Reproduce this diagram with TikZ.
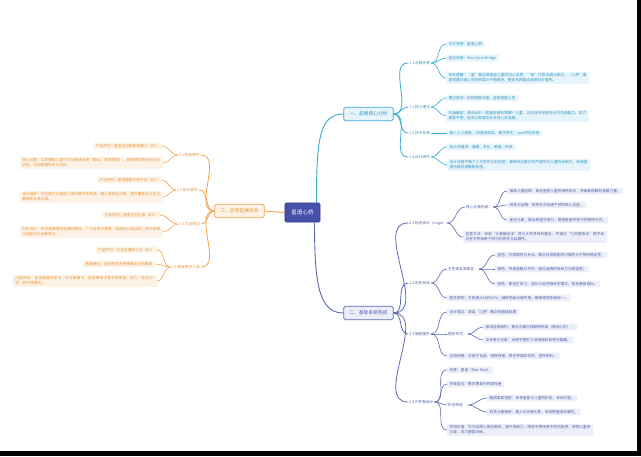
\documentclass[tikz,border=0pt]{standalone}
\usepackage{fontspec}
\setmainfont{Noto Sans CJK SC}
\XeTeXlinebreaklocale "zh"
\XeTeXlinebreakskip = 0pt plus 1pt
\definecolor{cyL}{HTML}{3AA9D4}
\definecolor{cyF}{HTML}{E6F4FB}
\definecolor{cyT}{HTML}{3496C4}
\definecolor{blL}{HTML}{5A69B5}
\definecolor{blF}{HTML}{EDEFF8}
\definecolor{blT}{HTML}{5262A8}
\definecolor{orL}{HTML}{F2A24B}
\definecolor{orF}{HTML}{FDF2E6}
\definecolor{orT}{HTML}{E8963A}
\definecolor{ctF}{HTML}{4650A8}
\begin{document}
\begin{tikzpicture}[x=1pt,y=-1pt,
  small/.style={font=\fontsize{3.7}{4.9}\selectfont},
  central/.style={draw=ctF!80!black,fill=ctF,text=white,rounded corners=1.5pt,font=\fontsize{5.6}{6.5}\selectfont,inner xsep=6.5pt,inner ysep=7pt,line width=0.5pt},
  bbox/.style={rounded corners=1.5pt,font=\fontsize{4.8}{5.6}\selectfont,inner xsep=5.5pt,inner ysep=4.5pt,line width=0.7pt},
  b1box/.style={bbox,draw=cyL,fill=cyF,text=cyT},
  b2box/.style={bbox,draw=blL,fill=blF,text=blT},
  b3box/.style={bbox,draw=orL,fill=orF,text=orT},
  leaf/.style={small,rounded corners=1pt,inner xsep=2.5pt,inner ysep=1.6pt,align=left},
  c1leaf/.style={leaf,fill=cyF,text=cyT,anchor=west},
  c2leaf/.style={leaf,fill=blF,text=blT,anchor=west},
  c3leaf/.style={leaf,fill=orF,text=orT,anchor=east},
  c1lab/.style={small,text=cyT,inner sep=1pt,anchor=west},
  c2lab/.style={small,text=blT,inner sep=1pt,anchor=west},
  c3lab/.style={small,text=orT,inner sep=1pt,anchor=east},
  c1line/.style={draw=cyL,line width=0.6pt},
  c2line/.style={draw=blL,line width=0.6pt},
  c3line/.style={draw=orL,line width=0.6pt},
  lr/.style={out=0,in=180},
  rl/.style={out=180,in=0}]
\useasboundingbox (0,0) rectangle (641,456);
\fill[white] (0,0) rectangle (641,456);
\fill[black] (637,0) rectangle (641,456);
\fill[black] (0,451) rectangle (641,456);

% central and main branches
\node[central] (c) at (302.5,212.5) {星语心桥};
\node[b1box] (b1) at (368.5,114) {一、品牌核心分析};
\node[b2box] (b2) at (368.5,313) {二、基础系统构成};
\node[b3box] (b3) at (239.5,211) {三、应用延展体系};

\draw[c1line,line width=0.9pt] ([xshift=14pt]c.north) .. controls +(0,-60) and +(-25,0) .. (b1.west);
\draw[c2line,line width=0.9pt] ([xshift=12pt]c.south) .. controls +(0,60) and +(-25,0) .. (b2.west);
\draw[c3line,line width=0.9pt] (c.west) -- (b3.east);

% ---------- branch 1 ----------
\node[c1lab] (s11) at (408,63) {1.1 品牌名称};
\node[c1lab] (s12) at (408,107) {1.2 核心理念};
\node[c1lab] (s13) at (408,133) {1.3 技术背景};
\node[c1lab] (s14) at (408,157) {1.4 设计调性};

\node[c1leaf] (n111) at (446,44) {中文名称：星语心桥};
\node[c1leaf] (n112) at (446,58) {英文名称：Star Voice Bridge};
\node[c1leaf,text width=138pt] (n113) at (446,78) {命名逻辑：“星”象征孤独症儿童的内心世界，“语”代表沟通与表达，“心桥”寓意搭建沟通心灵的桥梁与干预路径，整体名称蕴含品牌与价值性。};
\node[c1leaf] (n121) at (446,98) {理念表述：科技赋能沟通，连接星星心灵};
\node[c1leaf,text width=138pt] (n122) at (446,116) {内涵解读：面向ASD（孤独症谱系障碍）儿童，以科技手段提升社交沟通能力，助力康复干预，促进与家庭及社会的心灵连接。};
\node[c1leaf] (n131) at (447,133) {融入人工智能、VR虚拟现实、数字孪生、care评估系统};
\node[c1leaf] (n141) at (447,147) {四大关键词：温暖、专业、希望、科技};
\node[c1leaf,text width=138pt] (n142) at (447,165) {设计风格平衡了人文关怀与科技感，兼顾专业医疗的严谨性与儿童的亲和力，传递值得信赖的温暖陪伴感。};

\foreach \t in {s11,s12,s13,s14} \draw[c1line,line width=0.8pt] (b1.east) to[lr] (\t.west);
\foreach \t in {n111,n112,n113} \draw[c1line] (s11.east) to[lr] (\t.west);
\foreach \t in {n121,n122} \draw[c1line] (s12.east) to[lr] (\t.west);
\draw[c1line] (s13.east) -- (n131.west);
\foreach \t in {n141,n142} \draw[c1line] (s14.east) to[lr] (\t.west);

% ---------- branch 2 ----------
\node[c2lab] (s21) at (408,223) {2.1 标志设计（Logo）};
\node[c2lab] (s22) at (408,283) {2.2 色彩系统};
\node[c2lab] (s23) at (408,334) {2.3 辅助图形};
\node[c2lab] (s24) at (408,402) {2.4 IP形象设计};

\node[c2lab] (m211) at (465,207) {核心元素构成：};
\node[c2leaf] (n2111) at (507,191) {抽象儿童轮廓：象征星星儿童的独特状态，传递被理解的温暖力量；};
\node[c2leaf] (n2112) at (507,205) {线性对话框：体现社交沟通干预的核心功能；};
\node[c2leaf] (n2113) at (507,220) {星光元素：象征希望与指引，隐喻星星的孩子的独特光芒。};
\node[c2leaf,text width=139pt] (n212) at (463,237) {创意方法：采用“元素融合法”将三大符号有机整合，并通过“几何提炼法”赋予标志在不同场景下的可识别性与延展性。};

\node[c2lab] (m221) at (447,269) {主色调及其象征：};
\node[c2leaf] (n2211) at (495,255) {蓝色：代表理性与专业，象征科技赋能的可靠性与干预的稳定性；};
\node[c2leaf] (n2212) at (495,269) {橙色：传递温暖与关怀，强化品牌的亲和力与希望感；};
\node[c2leaf] (n2213) at (495,284) {绿色：象征生命力、成长与自然融合的理念，契合康复目标。};
\node[c2leaf] (n222) at (447,298) {配色原则：主色调占比约60\%，辅助色起点缀作用，确保视觉和谐统一。};

\node[c2leaf] (n231) at (447,312) {设计理念：源自“心桥”概念的曲线延展};
\node[c2lab] (m232) at (447,334) {图形形式：};
\node[c2leaf] (n2321) at (483,327) {弧线连接结构，象征沟通与理解的桥梁（融合心形）；};
\node[c2leaf] (n2322) at (483,340) {点状星光元素，点缀于图形之间增强科技感与童趣。};
\node[c2leaf] (n233) at (447,356) {应用场景：可用于包装、海报背景、数字界面及导视、宣传物料。};

\node[c2leaf] (n241) at (447,370) {名称：星诺（Star-Nuo）};
\node[c2leaf] (n242) at (447,384) {形象定位：数字康复中的陪伴者};
\node[c2lab] (m243) at (447,405) {形态特征：};
\node[c2leaf] (n2431) at (487,398) {圆润柔和造型：参考星星与儿童的形态，亲和力强；};
\node[c2leaf] (n2432) at (487,412) {科技元素融合：融入AI光感元素，体现智能陪伴属性。};
\node[c2leaf,text width=141pt] (n244) at (447,430) {作用价值：作为品牌人格化载体，提升亲和力，降低干预场景中的抗拒感，增强儿童参与度，助力康复训练。};

\foreach \t in {s21,s22,s23,s24} \draw[c2line,line width=0.8pt] (b2.east) to[lr] (\t.west);
\foreach \t in {m211,n212} \draw[c2line] (s21.east) to[lr] (\t.west);
\foreach \t in {n2111,n2112,n2113} \draw[c2line] (m211.east) to[lr] (\t.west);
\foreach \t in {m221,n222} \draw[c2line] (s22.east) to[lr] (\t.west);
\foreach \t in {n2211,n2212,n2213} \draw[c2line] (m221.east) to[lr] (\t.west);
\foreach \t in {n231,m232,n233} \draw[c2line] (s23.east) to[lr] (\t.west);
\foreach \t in {n2321,n2322} \draw[c2line] (m232.east) to[lr] (\t.west);
\foreach \t in {n241,n242,m243,n244} \draw[c2line] (s24.east) to[lr] (\t.west);
\foreach \t in {n2431,n2432} \draw[c2line] (m243.east) to[lr] (\t.west);

% ---------- branch 3 ----------
\node[c3lab] (s31) at (201,155) {3.1 智能硬件};
\node[c3lab] (s32) at (199,190) {3.2 数字软件};
\node[c3lab] (s33) at (201,224) {3.3 文创周边};
\node[c3lab] (s34) at (201,267) {3.4 康复教学工具};

\node[c3leaf] (n311) at (162,146) {产品序列：星语互动陪伴机器人（R1）};
\node[c3leaf,text width=138pt] (n312) at (163,163) {核心功能：实时捕捉儿童行为与情绪反馈（眼动、面部表情），辅助康复师进行社交训练，实现数据同步与分析。};
\node[c3leaf] (n321) at (162,180) {产品序列：星语康复评估平台（R2）};
\node[c3leaf,text width=138pt] (n322) at (163,197) {设计目的：作为医疗与家庭之间的数字化桥梁，融入游戏化训练，提升康复依从性与趣味性及参与度。};
\node[c3leaf] (n331) at (160,215) {产品序列：星语文创礼盒（R3）};
\node[c3leaf,text width=138pt] (n332) at (163,232) {衍生设计：作为品牌情感延展的载体，广泛应用于家庭、校园及公益活动，提升品牌认知度与社会影响力。};
\node[c3leaf] (n341) at (157,250) {产品序列：社交沟通练习卡（R4）};
\node[c3leaf] (n342) at (155,264) {教具特点：结合视觉支持策略设计的教具};
\node[c3leaf,text width=139pt] (n343) at (157,281) {内容特点：包含情绪识别卡、社交故事卡、轮流等待卡等多种类型，助力“在玩中学”的干预模式。};

\foreach \t in {s31,s32,s33,s34} \draw[c3line,line width=0.8pt] (b3.west) to[rl] (\t.east);
\foreach \t in {n311,n312} \draw[c3line] (s31.west) to[rl] (\t.east);
\foreach \t in {n321,n322} \draw[c3line] (s32.west) to[rl] (\t.east);
\foreach \t in {n331,n332} \draw[c3line] (s33.west) to[rl] (\t.east);
\foreach \t in {n341,n342,n343} \draw[c3line] (s34.west) to[rl] (\t.east);
\end{tikzpicture}
\end{document}
